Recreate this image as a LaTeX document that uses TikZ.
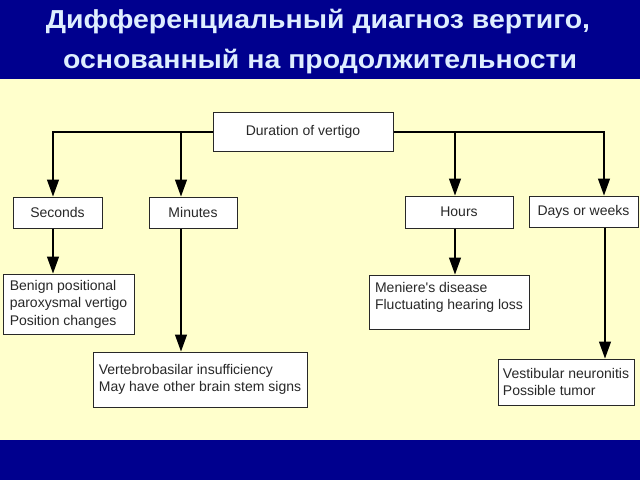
\documentclass[tikz,border=0pt]{standalone}
\usepackage{fontspec}
\setmainfont{Liberation Sans}
\newfontfamily\titlefont{Liberation Sans}
\usetikzlibrary{arrows.meta}
\definecolor{bandblue}{RGB}{0,0,142}
\definecolor{paleyellow}{RGB}{255,255,204}
\definecolor{titletext}{RGB}{222,238,255}
\definecolor{boxtext}{RGB}{40,40,40}
\definecolor{boxline}{RGB}{40,40,40}
\tikzset{
  box/.style={draw=boxline, fill=white, line width=1pt, inner sep=0pt,
    text=boxtext, font=\fontsize{14}{17.5}\selectfont, align=center},
  tbox/.style={box, align=left},
  arr/.style={draw=black, line width=1.2pt, -{Triangle[length=17pt,width=12pt]}},
  titlestyle/.style={text=titletext, font=\titlefont\bfseries\fontsize{26}{40}\selectfont, inner sep=0pt, anchor=base}
}
\begin{document}
\begin{tikzpicture}[x=1pt,y=-1pt]
\useasboundingbox (0,0) rectangle (640,480);
\fill[paleyellow] (0,0) rectangle (640,480);
\fill[bandblue] (0,0) rectangle (640,79);
\fill[bandblue] (0,440) rectangle (640,480);
\node[titlestyle] (t1) at (318,28) {\scalebox{1.094}[1]{Дифференциальный диагноз вертиго,}};
\node[titlestyle] (t2) at (320,68) {\scalebox{1.094}[1]{основанный на продолжительности}};

\node[box, minimum width=180pt, minimum height=39pt] (dur) at (303,132) {Duration of vertigo};
\node[box, minimum width=89pt, minimum height=31pt] (sec) at (57.5,212.5) {Seconds};
\node[box, minimum width=88pt, minimum height=31pt] (min) at (193,212.5) {Minutes};
\node[box, minimum width=108pt, minimum height=32pt] (hrs) at (459,212) {Hours};
\node[box, minimum width=109pt, minimum height=31pt] (days) at (583.5,211.5) {Days or weeks};

\node[tbox, minimum width=131pt, minimum height=60pt] (ben) at (68.5,304) {Benign positional\\paroxysmal vertigo\\Position changes};
\node[tbox, minimum width=214pt, minimum height=55pt] (vert) at (200,379.5) {Vertebrobasilar insufficiency\\May have other brain stem signs};
\node[tbox, minimum width=160pt, minimum height=54pt] (men) at (449,302) {Meniere\textquotesingle s disease\\Fluctuating hearing loss\\[-5pt]\mbox{}};
\node[tbox, minimum width=136pt, minimum height=46pt] (ves) at (566,382) {Vestibular neuronitis\\Possible tumor};

\coordinate (bmin) at (181,132);
\coordinate (bhrs) at (455,132);

\draw[arr] (dur.west) -| ([xshift=-4.5pt]sec.north);
\draw[arr] (dur.east) -| ([xshift=20.5pt]days.north);
\draw[arr] (bmin) -- (bmin |- min.north);
\draw[arr] (bhrs) -- (bhrs |- hrs.north);

\draw[arr] ([xshift=-4.5pt]sec.south) -- ([xshift=-4.5pt]sec.south |- ben.north);
\draw[arr] (bmin |- min.south) -- (bmin |- vert.north);
\draw[arr] (bhrs |- hrs.south) -- (bhrs |- men.north);
\draw[arr] ([xshift=21.5pt]days.south) -- ([xshift=21.5pt]days.south |- ves.north);
\end{tikzpicture}
\end{document}
